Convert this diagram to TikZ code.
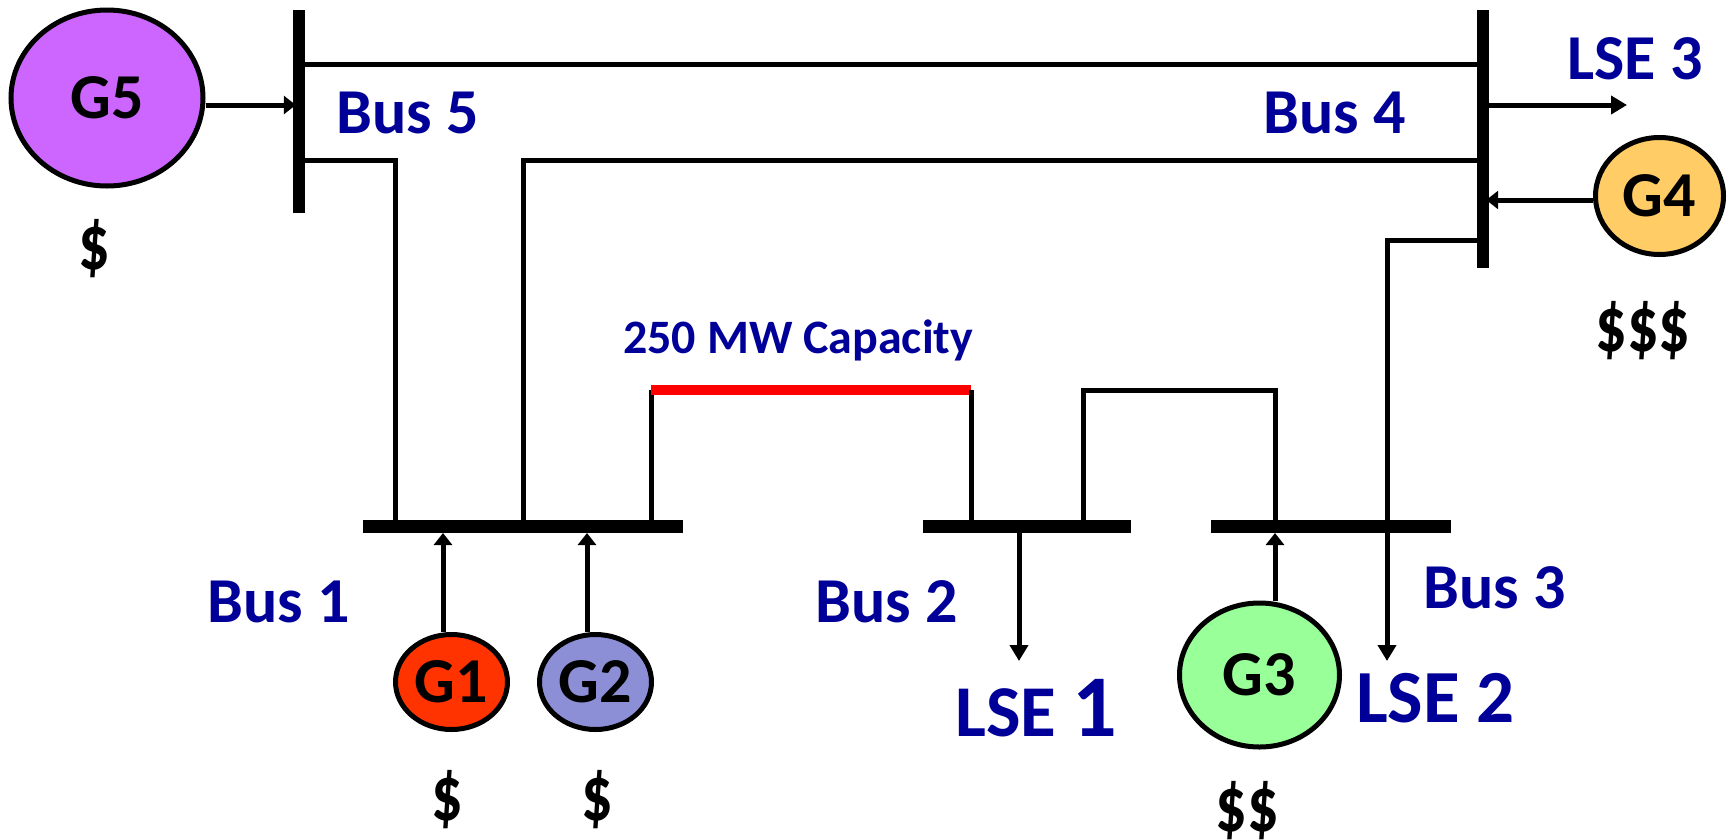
\documentclass[tikz,border=0pt]{standalone}
\usepackage{fontspec}
\usepackage{xcolor}
\setmainfont{Carlito}
\usetikzlibrary{shapes.geometric, arrows.meta, positioning}

\definecolor{labelblue}{HTML}{000099}
\definecolor{genviolet}{HTML}{CC66FF}
\definecolor{genorange}{HTML}{FF3300}
\definecolor{genslate}{HTML}{8C8FD6}
\definecolor{genlime}{HTML}{99FF99}
\definecolor{gensand}{HTML}{FFCC66}

\newcommand{\dollars}[1]{\scalebox{0.8}[1]{#1}}

\begin{document}
\begin{tikzpicture}[
    x=1pt, y=-1pt,
    gen/.style={ellipse, draw=black, line width=5pt, inner sep=0pt, font=\bfseries\fontsize{64}{64}\selectfont},
    vbar/.style={rectangle, fill=black, inner sep=0pt, minimum width=12pt},
    hbar/.style={rectangle, fill=black, inner sep=0pt, minimum height=13pt},
    line/.style={line width=5pt},
    arrow/.style={-{Triangle[length=16pt, width=18pt]}, line width=5pt},
    feed/.style={-{Triangle[length=12pt, width=18pt]}, line width=5pt},
    buslabel/.style={anchor=base west, inner sep=0pt, text=labelblue, font=\bfseries\fontsize{64}{64}\selectfont},
    cost/.style={inner sep=0pt, font=\bfseries\fontsize{78}{78}\selectfont},
]
\useasboundingbox (0,0) rectangle (1730,839);

% buses
\node[vbar, minimum height=203pt] (bus5) at (299,111.5) {};
\node[vbar, minimum height=258pt] (bus4) at (1483,139) {};
\node[hbar, minimum width=320pt] (bus1) at (523,526.5) {};
\node[hbar, minimum width=208pt] (bus2) at (1027,526.5) {};
\node[hbar, minimum width=240pt] (bus3) at (1331,526.5) {};

% generators
\node[gen, fill=genviolet, minimum width=192pt, minimum height=176pt] (g5) at (107,98) {G5};
\node[gen, fill=gensand, minimum width=128pt, minimum height=117pt] (g4) at (1659.5,196) {G4};
\node[gen, fill=genorange, minimum width=112pt, minimum height=95pt] (g1) at (451.5,682) {G1};
\node[gen, fill=genslate, minimum width=112pt, minimum height=95pt, right=27pt of g1] (g2) {G2};
\node[gen, fill=genlime, minimum width=160pt, minimum height=144pt] (g3) at (1259.5,675) {G3};

\node[cost, below=31pt of g5, xshift=-13pt] (cost5) {\dollars{\$}};
\node[cost, below=44pt of g4, xshift=-16.5pt] (cost4) {\dollars{\$\$\$}};
\node[cost, below=38pt of g1, xshift=-4.5pt] (cost1) {\dollars{\$}};
\node[cost, below=38pt of g2, xshift=1.5pt] (cost2) {\dollars{\$}};
\node[cost, below=32pt of g3, xshift=-12.5pt] (cost3) {\dollars{\$\$}};

% labels
\node[buslabel] (lbus5) at (336,133) {Bus 5};
\node[buslabel] (lbus4) at (1263,133) {Bus 4};
\node[buslabel] (lbus1) at (207,622) {Bus 1};
\node[buslabel] (lbus2) at (815,622) {Bus 2};
\node[buslabel] (lbus3) at (1423,608) {Bus 3};
\node[buslabel, font=\bfseries\fontsize{64}{64}\selectfont] (lse3) at (1567,79) {LSE 3};
\node[buslabel, font=\bfseries\fontsize{73}{73}\selectfont] (lse1) at (955,736) {LSE {\fontsize{88}{88}\selectfont 1}};
\node[buslabel, font=\bfseries\fontsize{75}{75}\selectfont] (lse2) at (1356,722) {LSE 2};
\node[buslabel, font=\bfseries\fontsize{48}{48}\selectfont] (cap) at (623,353) {250 MW Capacity};

% corners and free ends
\coordinate (top) at (0,64);
\coordinate (c51) at (395,160);
\coordinate (c41) at (523,160);
\coordinate (c43) at (1387,240);
\coordinate (redl) at (651,390);
\coordinate (redr) at (971,390);
\coordinate (c2l) at (1083,390);
\coordinate (c3r) at (1275,390);
\coordinate (out1) at (1019,661);
\coordinate (out2) at (1387,661);
\coordinate (out3) at (1627,105);
\coordinate (in5) at (0,105);
\coordinate (in4) at (0,200);
\coordinate (in1) at (443,533);
\coordinate (in2) at (587,533);
\coordinate (in3) at (1275,533);

% lines
\draw[line] (bus5.east |- top) -- (bus4.west |- top);
\draw[line] (bus5.east |- c51) -- (c51) -- (c51 |- bus1.north);
\draw[line] (c41 |- bus1.north) -- (c41) -- (bus4.west |- c41);
\draw[line] (redl |- bus1.north) -- (redl);
\draw[line, red, line width=10pt] (redl) -- (redr);
\draw[line] (redr) -- (redr |- bus2.north);
\draw[line] (c2l |- bus2.north) -- (c2l) -- (c3r) -- (c3r |- bus3.north);

% arrows
\draw[feed] (g5.east |- in5) -- ([xshift=3pt]bus5.west |- in5);
\draw[feed] (g4.west |- in4) -- ([xshift=-3pt]bus4.east |- in4);
\draw[feed] (in1 |- g1.north) -- (in1);
\draw[feed] (in2 |- g2.north) -- (in2);
\draw[feed] (in3 |- g3.north) -- (in3);
\draw[arrow] (bus4.east |- out3) -- (out3);
\draw[arrow] (out1 |- bus2.south) -- (out1);
\draw[arrow] (bus4.west |- c43) -- (c43) -- (out2);

\end{tikzpicture}
\end{document}
